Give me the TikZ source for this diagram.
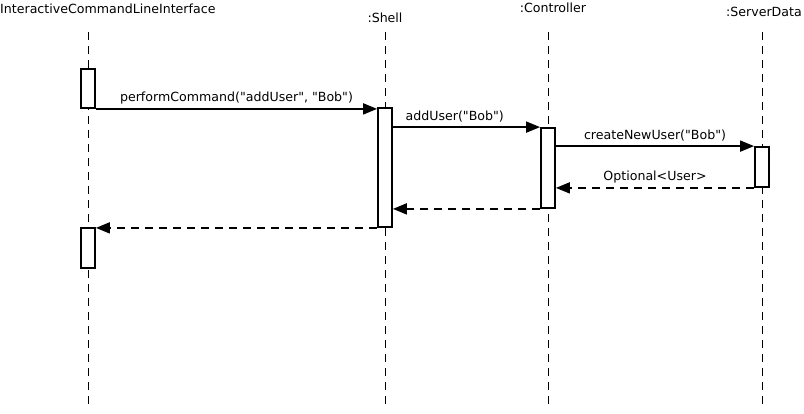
\documentclass[tikz,border=0pt]{standalone}
\usepackage{fontspec}
\setmainfont{DejaVu Sans}
\usetikzlibrary{arrows.meta}

\newcommand{\qt}[1]{\textquotedbl#1\textquotedbl}

\begin{document}
\begin{tikzpicture}[x=1pt,y=-1pt]
  \tikzstyle{every node}=[font=\fontsize{12.6}{14}\selectfont]
  \tikzstyle{lifeline}=[line width=0.8pt, dash pattern=on 8pt off 6pt]
  \tikzstyle{activation}=[draw, rectangle, line width=1.8pt, fill=white, minimum width=14pt, inner sep=0pt]
  \tikzstyle{call}=[line width=1.8pt, -{Triangle[length=14pt,width=11pt]}]
  \tikzstyle{reply}=[call, dash pattern=on 8pt off 6pt]
  \tikzstyle{msg}=[above, inner sep=4pt]
  \useasboundingbox (0,0) rectangle (804,413);
  % objects
  \node[anchor=west, inner sep=0pt] (cli) at (0,9) {InteractiveCommandLineInterface};
  \node[inner sep=0pt] (shell) at (385,18) {:Shell};
  \node[inner sep=0pt] (ctrl) at (553,8) {:Controller};
  \node[inner sep=0pt] (sd) at (764,12) {:ServerData};
  \coordinate (cliTop) at (88,32);   \coordinate (cliEnd) at (88,408);
  \coordinate (shellTop) at (385,32); \coordinate (shellEnd) at (385,408);
  \coordinate (ctrlTop) at (548,32);  \coordinate (ctrlEnd) at (548,408);
  \coordinate (sdTop) at (762,32);    \coordinate (sdEnd) at (762,408);
  \draw[lifeline] (cliTop) -- (cliEnd);
  \draw[lifeline] (shellTop) -- (shellEnd);
  \draw[lifeline] (ctrlTop) -- (ctrlEnd);
  \draw[lifeline] (sdTop) -- (sdEnd);
  % activations
  \node[activation, minimum height=39pt] (cliAct1) at (88,88.5) {};
  \node[activation, minimum height=119pt] (shellAct) at (385,167.5) {};
  \node[activation, minimum height=80pt] (ctrlAct) at (548,168) {};
  \node[activation, minimum height=40pt] (sdAct) at (762,167) {};
  \node[activation, minimum height=40pt] (cliAct2) at (88,248) {};
  % messages
  \draw[call] (cliAct1.south east) -- node[msg] {performCommand(\qt{addUser}, \qt{Bob})} (cliAct1.south east -| shellAct.west);
  \draw[call] (shellAct.east |- ctrlAct.north) -- node[msg, pos=0.42] {addUser(\qt{Bob})} (ctrlAct.north west);
  \draw[call] (ctrlAct.east |- sdAct.north) -- node[msg] {createNewUser(\qt{Bob})} (sdAct.north west);
  \draw[reply] (sdAct.south west) -- node[msg] {Optional<User>} (sdAct.south -| ctrlAct.east);
  \draw[reply] (ctrlAct.south west) -- (ctrlAct.south -| shellAct.east);
  \draw[reply] (shellAct.south west) -- (shellAct.south -| cliAct2.east);
\end{tikzpicture}
\end{document}
